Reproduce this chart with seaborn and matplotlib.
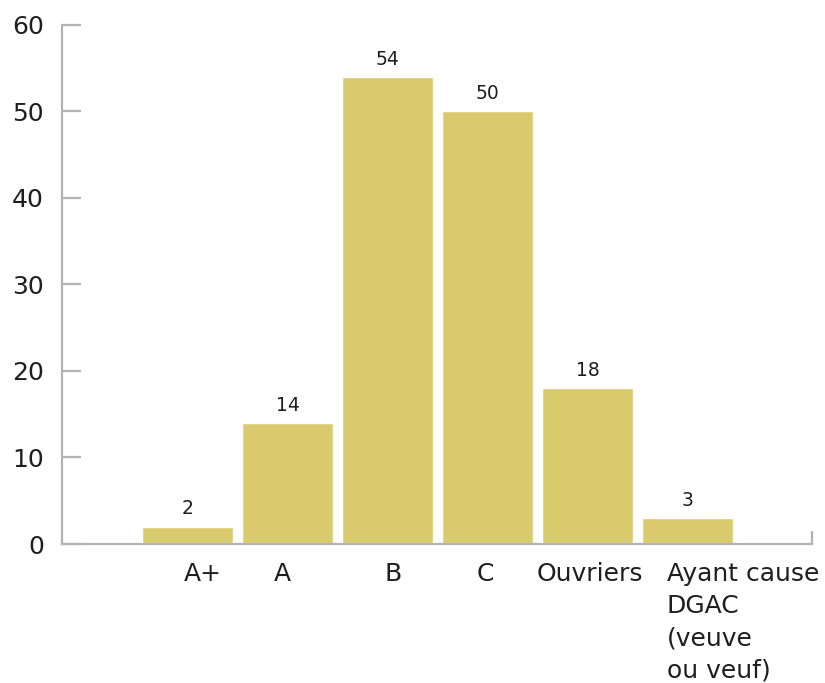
import matplotlib.pyplot as plt
import matplotlib.transforms as mtransforms
import pandas as pd
import seaborn as sns

categories = ["A+", "A", "B", "C", "Ouvriers", "Ayant cause\nDGAC\n(veuve\nou veuf)"]
values = [2, 14, 54, 50, 18, 3]
y_ticks = [0, 10, 20, 30, 40, 50, 60]

BAR_COLOR = "#DACA6E"
AXIS_COLOR = "#B2B2B7"
TEXT_COLOR = "#1E1E1E"


def main() -> None:
    sns.set_theme(style="white")
    plt.rcParams["font.family"] = ["DejaVu Sans"]

    df = pd.DataFrame({"category": categories, "value": values})

    fig = plt.figure(figsize=(8.25, 6.83), dpi=100)
    ax = fig.add_axes([0.075, 0.2035, 0.909, 0.76])

    sns.barplot(
        data=df,
        x="category",
        y="value",
        color=BAR_COLOR,
        saturation=1,
        width=0.91,
        ax=ax,
    )

    for container in ax.containers:
        ax.bar_label(container, padding=6, fontsize=13.5, color=TEXT_COLOR)

    ax.set_ylim(0, 60)
    ax.set_xlim(-1.26, 6.24)
    ax.set_yticks(y_ticks)
    ax.set_xlabel("")
    ax.set_ylabel("")

    sns.despine(ax=ax, top=True, right=True)
    for side in ["left", "bottom"]:
        ax.spines[side].set_color(AXIS_COLOR)
        ax.spines[side].set_linewidth(1.6)

    ax.tick_params(
        axis="y", direction="in", length=13.5, width=1.6, color=AXIS_COLOR,
        pad=13, labelsize=18, labelcolor=TEXT_COLOR, left=True,
    )
    ax.tick_params(axis="x", length=0, pad=13, labelsize=18, labelcolor=TEXT_COLOR)

    # small end tick on the right of the baseline
    ax.set_xticks([6.24], minor=True)
    ax.tick_params(axis="x", which="minor", direction="in", length=9.5, width=1.6,
                   color=AXIS_COLOR, bottom=True)

    # nudge category labels as in the original layout (pixel offsets)
    offsets = [15, -5, 5, -3, 2, -21]
    for lbl, dx in zip(ax.get_xticklabels(), offsets):
        lbl.set_transform(lbl.get_transform() + mtransforms.ScaledTranslation(dx / 100, 0, fig.dpi_scale_trans))
        lbl.set_linespacing(1.42)
        lbl.set_verticalalignment("top")
    ax.get_xticklabels()[-1].set_horizontalalignment("left")

    ax.grid(False)
    fig.savefig("out.png", dpi=100)
    plt.close(fig)


if __name__ == "__main__":
    main()
